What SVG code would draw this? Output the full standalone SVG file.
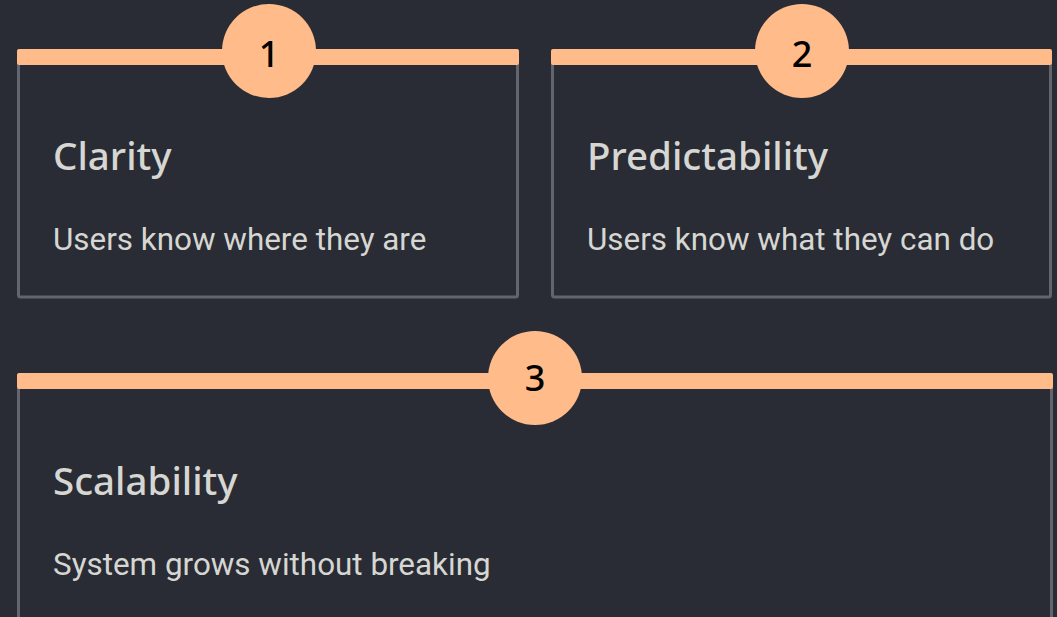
<svg xmlns="http://www.w3.org/2000/svg" width="1057" height="617" viewBox="0 0 1057 617">
<style>
.card{fill:#292c34;stroke:#62656d;stroke-width:3}
.bar{fill:#ffbb8a}
.badge{fill:#ffbb8a}
.num{font-family:"Noto Sans",sans-serif;font-size:36px;font-weight:500;fill:#000;text-anchor:middle}
.title{font-family:"Noto Sans",sans-serif;font-size:38.5px;font-weight:500;fill:#d6d6d2}
.sub{font-family:Roboto,sans-serif;font-size:31.4px;fill:#d6d6d2}
</style>
<rect width="1057" height="617" fill="#292c34"/>
<g id="card1">
<rect class="card" x="18.5" y="55" width="499" height="242" rx="2"/>
<rect class="bar" x="17" y="49" width="502" height="16" rx="2"/>
<circle class="badge" cx="269" cy="51" r="47"/>
<text class="num" x="269" y="67">1</text>
<text class="title" x="53" y="170">Clarity</text>
<text class="sub" x="53" y="250">Users know where they are</text>
</g>
<g id="card2">
<rect class="card" x="552.5" y="55" width="498" height="242" rx="2"/>
<rect class="bar" x="551" y="49" width="501" height="16" rx="2"/>
<circle class="badge" cx="802" cy="51" r="47"/>
<text class="num" x="802" y="67">2</text>
<text class="title" x="587" y="170">Predictability</text>
<text class="sub" x="587" y="250">Users know what they can do</text>
</g>
<g id="card3">
<rect class="card" x="18.5" y="380" width="1033" height="260" rx="2"/>
<rect class="bar" x="17" y="373" width="1036" height="16" rx="2"/>
<circle class="badge" cx="535" cy="378" r="47"/>
<text class="num" x="535" y="391">3</text>
<text class="title" x="53" y="495">Scalability</text>
<text class="sub" x="53" y="575">System grows without breaking</text>
</g>
<g id="connectors"/>
</svg>
